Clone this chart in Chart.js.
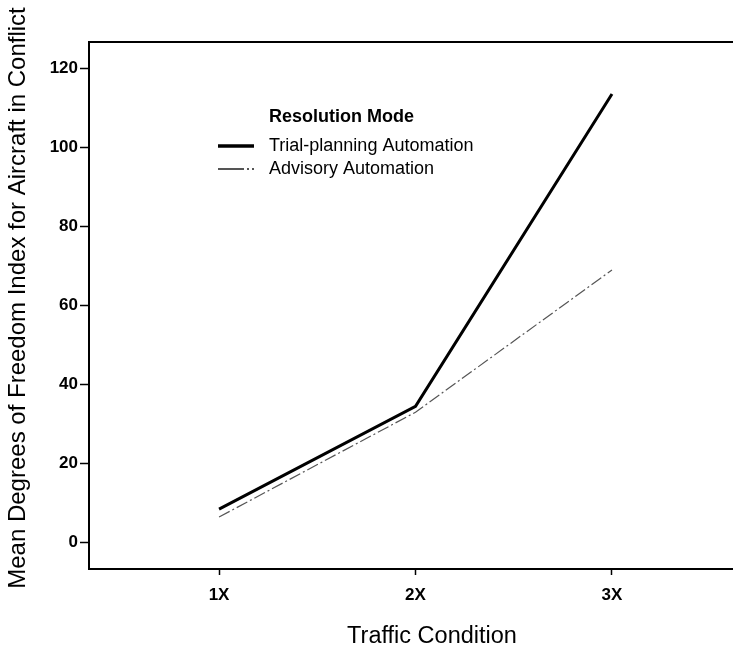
<!DOCTYPE html>
<html>
<head>
<meta charset="utf-8">
<script src="https://cdn.jsdelivr.net/npm/chart.js@4/dist/chart.umd.min.js"></script>
<style>
  html, body { margin: 0; padding: 0; background: #fff; overflow: hidden; }
  canvas { display: block; }
</style>
</head>
<body>
<canvas id="chart" width="733" height="648"></canvas>
<script>
// Data
const trafficLevels = [1, 2, 3];
const trafficLabels = ['1X', '2X', '3X'];
const trialPlanning = [8.5, 34.5, 113.5];
const advisory = [6.5, 33, 69];
const yTicks = [0, 20, 40, 60, 80, 100, 120];

const FONT = "'Liberation Sans', Arial, sans-serif";

// frame line on top + hand placed titles and legend
const decorPlugin = {
  id: 'decor',
  afterDraw(chart) {
    const ctx = chart.ctx;
    const area = chart.chartArea;
    ctx.save();

    // top border
    ctx.strokeStyle = '#000';
    ctx.lineWidth = 2;
    ctx.beginPath();
    ctx.moveTo(area.left - 1, area.top);
    ctx.lineTo(chart.width, area.top);
    ctx.stroke();

    // axis titles
    ctx.fillStyle = '#000';
    ctx.font = '23.5px ' + FONT;
    ctx.textAlign = 'center';
    ctx.textBaseline = 'middle';
    ctx.fillText('Traffic Condition', 432, 637);

    ctx.save();
    ctx.translate(18, 298);
    ctx.rotate(-Math.PI / 2);
    ctx.font = '24px ' + FONT;
    ctx.fillText('Mean Degrees of Freedom Index for Aircraft in Conflict', 0, 0);
    ctx.restore();

    // legend
    ctx.textAlign = 'left';
    ctx.font = 'bold 18px ' + FONT;
    ctx.fillText('Resolution Mode', 269, 117);
    ctx.font = '18px ' + FONT;
    chart.data.datasets.forEach((ds, i) => {
      const y = 146 + i * 23;
      ctx.strokeStyle = ds.borderColor;
      ctx.lineWidth = i === 0 ? 3.5 : 2;
      ctx.setLineDash(i === 0 ? [] : [26, 3, 2, 3]);
      ctx.beginPath();
      ctx.moveTo(218, y);
      ctx.lineTo(254, y);
      ctx.stroke();
      ctx.setLineDash([]);
      ctx.fillStyle = '#000';
      ctx.fillText(ds.label, 269, y);
    });
    ctx.restore();
  }
};

new Chart(document.getElementById('chart'), {
  type: 'line',
  data: {
    datasets: [
      {
        label: 'Trial-planning Automation',
        data: trafficLevels.map((x, i) => ({ x: x, y: trialPlanning[i] })),
        borderColor: '#000',
        borderWidth: 3,
        pointRadius: 0,
        tension: 0
      },
      {
        label: 'Advisory Automation',
        data: trafficLevels.map((x, i) => ({ x: x, y: advisory[i] })),
        borderColor: '#555',
        borderWidth: 1.2,
        borderDash: [12, 3, 2, 3],
        pointRadius: 0,
        tension: 0
      }
    ]
  },
  options: {
    responsive: false,
    animation: false,
    layout: { padding: { top: 42, right: 0, left: 0, bottom: 0 } },
    plugins: {
      legend: { display: false },
      tooltip: { enabled: false }
    },
    scales: {
      x: {
        type: 'linear',
        min: 0.338,
        max: 3.616,
        afterBuildTicks: scale => { scale.ticks = trafficLevels.map(v => ({ value: v })); },
        afterFit: scale => { scale.height = 79; },
        border: { display: true, color: '#000', width: 2 },
        grid: { drawOnChartArea: false, color: '#000', tickLength: 6, tickWidth: 1.5 },
        ticks: {
          color: '#000',
          padding: 10,
          font: { family: FONT, size: 17, weight: 'bold' },
          callback: (v) => trafficLabels[trafficLevels.indexOf(v)]
        }
      },
      y: {
        min: -6.65,
        max: 126.65,
        afterBuildTicks: scale => { scale.ticks = yTicks.map(v => ({ value: v })); },
        afterFit: scale => { scale.width = 89; },
        border: { display: true, color: '#000', width: 2 },
        grid: { drawOnChartArea: false, color: '#000', tickLength: 9, tickWidth: 1.5 },
        ticks: {
          color: '#000',
          padding: 2,
          font: { family: FONT, size: 17, weight: 'bold' }
        }
      }
    }
  },
  plugins: [decorPlugin]
});
</script>
</body>
</html>
